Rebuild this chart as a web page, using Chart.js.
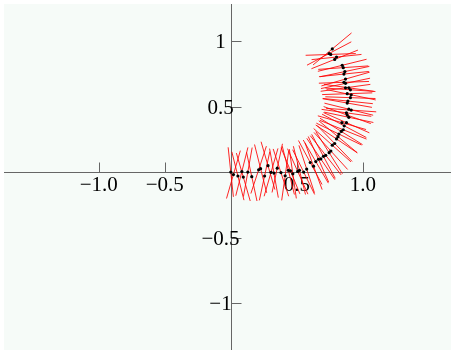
<!DOCTYPE html>
<html>
<head>
<meta charset="utf-8">
<script src="https://cdn.jsdelivr.net/npm/chart.js@4"></script>
<style>
  html, body { margin: 0; padding: 0; background: #ffffff; }
</style>
</head>
<body>
<canvas id="chart" width="455" height="354"></canvas>
<script>
// sample points (black dots)
const pointX = [0.00, 0.020, 0.054, 0.084, 0.095, 0.129, 0.159, 0.211, 0.226, 0.256,
  0.282, 0.305, 0.327, 0.352, 0.380, 0.412, 0.436, 0.452, 0.470, 0.507,
  0.520, 0.552, 0.575, 0.602, 0.627, 0.644, 0.664, 0.682, 0.702, 0.719,
  0.745, 0.758, 0.769, 0.787, 0.801, 0.812, 0.819, 0.837, 0.852, 0.859,
  0.842, 0.876, 0.894, 0.882, 0.876, 0.894, 0.912, 0.882, 0.887, 0.906,
  0.912, 0.882, 0.906, 0.869, 0.894, 0.869, 0.857, 0.869, 0.857, 0.864,
  0.852, 0.844, 0.801, 0.787, 0.757, 0.745, 0.769];
const pointY = [0.000, -0.019, -0.030, 0.004, -0.038, 0.000, -0.035, 0.017, 0.026, -0.030,
  0.049, -0.002, -0.008, 0.030, -0.004, -0.028, 0.013, 0.010, -0.013, 0.005,
  0.013, 0.000, 0.023, 0.073, 0.045, 0.080, 0.098, 0.100, 0.120, 0.128,
  0.148, 0.161, 0.205, 0.218, 0.253, 0.270, 0.290, 0.310, 0.323, 0.353,
  0.377, 0.377, 0.418, 0.435, 0.452, 0.480, 0.473, 0.527, 0.542, 0.568,
  0.590, 0.598, 0.628, 0.643, 0.643, 0.677, 0.685, 0.710, 0.748, 0.767,
  0.797, 0.815, 0.878, 0.860, 0.898, 0.905, 0.940];
// orientation of the red segment through each point (degrees)
const segAngle = [96, 74, 104, 76, 106, 80, 102, 72, 104, 78,
  106, 74, 100, 78, 108, 82, 104, 112, 98, 114,
  104, 116, 108, 118, 110, 120, 114, 124, 118, 128,
  122, 132, 138, 134, 146, 140, 154, 148, 158, 152,
  164, 156, 168, 160, 172, 166, 176, 170, 174, 178,
  168, 2, 176, 8, 172, 12, 2, 16, 6, 12,
  4, 14, 6, 22, 2, 28, 40];
const segHalf = 0.19;

const xTicks = [-1.0, -0.5, 0.5, 1.0];
const xTickLabels = ['\u22121.0', '\u22120.5', '0.5', '1.0'];
const yTicks = [1, 0.5, -0.5, -1];
const yTickLabels = ['1', '0.5', '\u22120.5', '\u22121'];

const dots = pointX.map((x, i) => ({ x: x, y: pointY[i] }));

const segments = [];
pointX.forEach((x, i) => {
    const a = segAngle[i] * Math.PI / 180;
    const dx = segHalf * Math.cos(a);
    const dy = segHalf * Math.sin(a);
    segments.push({ x: x - dx, y: pointY[i] - dy });
    segments.push({ x: x + dx, y: pointY[i] + dy });
    segments.push({ x: x, y: null });
});

const mathAxes = {
    id: 'mathAxes',
    beforeDraw(chart) {
        const { ctx, chartArea } = chart;
        ctx.save();
        ctx.fillStyle = '#f6fbf8';
        ctx.fillRect(chartArea.left, chartArea.top, chartArea.right - chartArea.left, chartArea.bottom - chartArea.top);
        ctx.restore();
    },
    beforeDatasetsDraw(chart) {
        const { ctx, chartArea, scales } = chart;
        const x0 = Math.round(scales.x.getPixelForValue(0)) + 0.5;
        const y0 = Math.round(scales.y.getPixelForValue(0)) + 0.5;
        ctx.save();
        ctx.strokeStyle = '#666666';
        ctx.lineWidth = 1;
        ctx.beginPath();
        ctx.moveTo(chartArea.left, y0);
        ctx.lineTo(chartArea.right, y0);
        ctx.moveTo(x0, chartArea.top);
        ctx.lineTo(x0, chartArea.bottom);
        xTicks.forEach(v => {
            const px = Math.round(scales.x.getPixelForValue(v)) + 0.5;
            ctx.moveTo(px, y0);
            ctx.lineTo(px, y0 - 10);
        });
        yTicks.forEach(v => {
            const py = Math.round(scales.y.getPixelForValue(v)) + 0.5;
            ctx.moveTo(x0, py);
            ctx.lineTo(x0 + 10, py);
        });
        ctx.stroke();

        ctx.fillStyle = '#000000';
        ctx.font = '21px "Liberation Serif", "Times New Roman", serif';
        ctx.textAlign = 'center';
        ctx.textBaseline = 'alphabetic';
        xTicks.forEach((v, i) => {
            ctx.fillText(xTickLabels[i], scales.x.getPixelForValue(v), y0 + 18);
        });
        yTicks.forEach((v, i) => {
            ctx.fillText(yTickLabels[i], x0 - 11, scales.y.getPixelForValue(v) + 7);
        });
        ctx.restore();
    }
};

new Chart(document.getElementById('chart'), {
    type: 'scatter',
    data: {
        datasets: [{
            label: 'points',
            data: dots,
            pointRadius: 1.6,
            pointBackgroundColor: '#000000',
            pointBorderWidth: 0,
            order: 0
        }, {
            label: 'segments',
            data: segments,
            showLine: true,
            spanGaps: false,
            borderColor: 'rgba(255, 0, 0, 0.85)',
            borderWidth: 1,
            pointRadius: 0,
            fill: false,
            order: 1
        }]
    },
    options: {
        responsive: false,
        animation: false,
        devicePixelRatio: 1,
        layout: { padding: { left: 3, top: 2, right: 0, bottom: 0 } },
        scales: {
            x: { type: 'linear', min: -1.7176, max: 1.668, display: false },
            y: { type: 'linear', min: -1.358, max: 1.2828, display: false }
        },
        plugins: {
            legend: { display: false },
            tooltip: { enabled: false }
        }
    },
    plugins: [mathAxes]
});
</script>
</body>
</html>
